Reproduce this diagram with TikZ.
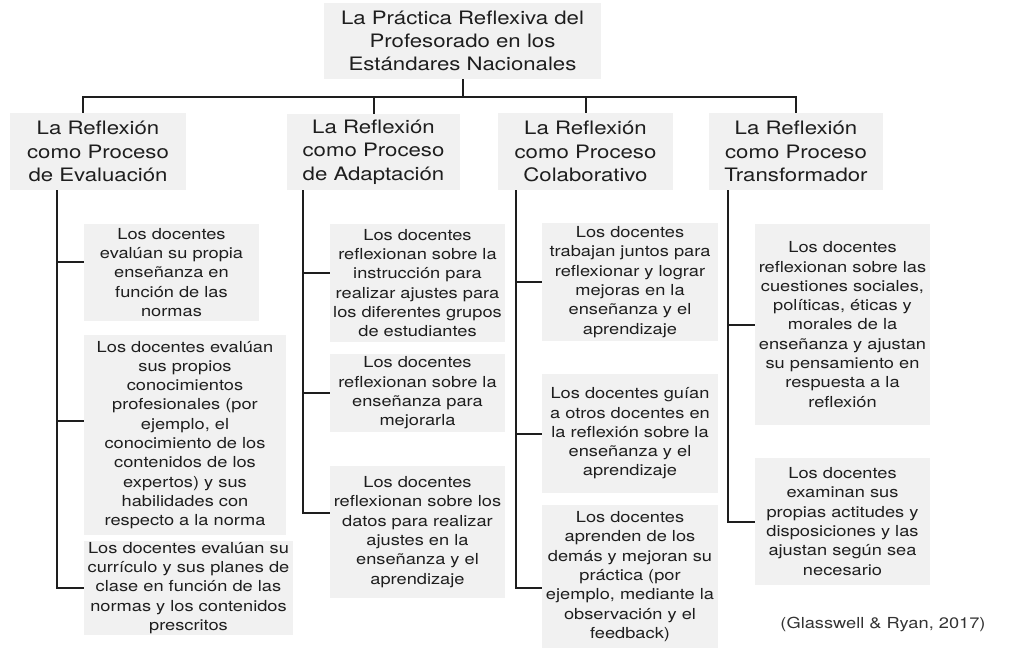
\documentclass[tikz,border=0pt]{standalone}
\usepackage{fontspec}
\setmainfont{TeX Gyre Heros}[FakeStretch=1.2]
\usepackage{tikz}
\usetikzlibrary{positioning}
\definecolor{boxgray}{HTML}{F1F1F1}
\definecolor{inkgray}{HTML}{1E1E1E}
\definecolor{citegray}{HTML}{333333}
\newcommand\bigtext{\fontsize{18.5}{23.3}\selectfont}
\newcommand\smalltext{\fontsize{15.2}{19.3}\selectfont}
\tikzset{procbox/.style 2 args = {fill=boxgray, text=inkgray, align=center,
                                  inner sep=0pt, font=\bigtext,
                                  text width=#1, minimum height=#2},
         itembox/.style 2 args = {fill=boxgray, text=inkgray, align=center,
                                  inner sep=0pt, font=\smalltext,
                                  text width=#1, minimum height=#2},
         link/.style = {draw=inkgray, line width=2pt}}

\begin{document}
\begin{tikzpicture}[x=1pt, y=-1pt]
    \useasboundingbox (0, 0) rectangle (1027, 648);
    % top and the four processes
    \node [procbox={277pt}{76pt}] (title) at (462.5, 41)
        {La Práctica Reflexiva del\\Profesorado en los\\Estándares Nacionales};
    \node [procbox={176pt}{77pt}] (eval) at (98, 151.5)
        {La Reflexión\\como Proceso\\de Evaluación};
    \node [procbox={173pt}{76pt}] (adapt) at (373.5, 152)
        {La Reflexión\\como Proceso\\de Adaptación};
    \node [procbox={175pt}{77pt}] (colab) at (585.5, 151.5)
        {La Reflexión\\como Proceso\\Colaborativo};
    \node [procbox={174pt}{77pt}] (transf) at (796, 151.5)
        {La Reflexión\\como Proceso\\Transformador};
    \draw [link] (title.south) -- ++(0, 17.7) -| ([xshift=-15pt]eval.north);
    \foreach \p in {adapt, colab, transf}
        \draw [link] (title.south) -- ++(0, 17.7) -| (\p.north);

    % evaluación
    \node [itembox={175pt}{97pt}] (e1) at (171.5, 272.5)
        {Los docentes\\evalúan su propia\\enseñanza en\\función de las\\normas};
    \node [itembox={202pt}{200pt}] (e2) at (185, 435)
        {Los docentes evalúan\\sus propios\\conocimientos\\profesionales (por\\ejemplo, el\\conocimiento de los\\contenidos de los\\expertos) y sus\\habilidades con\\respecto a la norma};
    \node [itembox={209pt}{94pt}] (e3) at (188.5, 588)
        {Los docentes evalúan su\\currículo y sus planes de\\clase en función de las\\normas y los contenidos\\prescritos};
    \coordinate (te) at ([xshift=47pt]eval.south west);
    \foreach \b/\d in {e1/10.5, e2/14, e3/0}
        \draw [link] (te) |- ([yshift=\d pt]\b.west);

    % adaptación
    \node [itembox={175pt}{118pt}] (a1) at (417.5, 283)
        {Los docentes\\reflexionan sobre la\\instrucción para\\realizar ajustes para\\los diferentes grupos\\de estudiantes};
    \node [itembox={175pt}{78pt}] (a2) at (417.5, 393)
        {Los docentes\\reflexionan sobre la\\enseñanza para\\mejorarla};
    \node [itembox={175pt}{132pt}] (a3) at (417.5, 532)
        {Los docentes\\reflexionan sobre los\\datos para realizar\\ajustes en la\\enseñanza y el\\aprendizaje};
    \coordinate (ta) at ([xshift=16pt]adapt.south west);
    \foreach \b/\d in {a1/10, a2/0, a3/19}
        \draw [link] (ta) |- ([yshift=\d pt]\b.west);

    % colaborativo
    \node [itembox={176pt}{118pt}] (c1) at (630, 282)
        {Los docentes\\trabajan juntos para\\reflexionar y lograr\\mejoras en la\\enseñanza y el\\aprendizaje};
    \node [itembox={176pt}{119pt}] (c2) at (630, 433.5)
        {Los docentes guían\\a otros docentes en\\la reflexión sobre la\\enseñanza y el\\aprendizaje};
    \node [itembox={176pt}{143pt}] (c3) at (630, 576.5)
        {Los docentes\\aprenden de los\\demás y mejoran su\\práctica (por\\ejemplo, mediante la\\observación y el\\feedback)};
    \coordinate (tc) at ([xshift=18pt]colab.south west);
    \foreach \b/\d in {c1/0, c2/0, c3/-11.5}
        \draw [link] (tc) |- ([yshift=\d pt]\b.west);

    % transformador
    \node [itembox={175pt}{201pt}] (t1) at (842.5, 324.5)
        {Los docentes\\reflexionan sobre las\\cuestiones sociales,\\políticas, éticas y\\morales de la\\enseñanza y ajustan\\su pensamiento en\\respuesta a la\\reflexión};
    \node [itembox={175pt}{127pt}] (t2) at (842.5, 521.5)
        {Los docentes\\examinan sus\\propias actitudes y\\disposiciones y las\\ajustan según sea\\necesario};
    \coordinate (tt) at ([xshift=19pt]transf.south west);
    \foreach \b/\d in {t1/0, t2/0}
        \draw [link] (tt) |- ([yshift=\d pt]\b.west);

    \node [text=citegray, font=\smalltext] (cite) at (883, 624)
        {(Glasswell \& Ryan, 2017)};
\end{tikzpicture}
\end{document}
